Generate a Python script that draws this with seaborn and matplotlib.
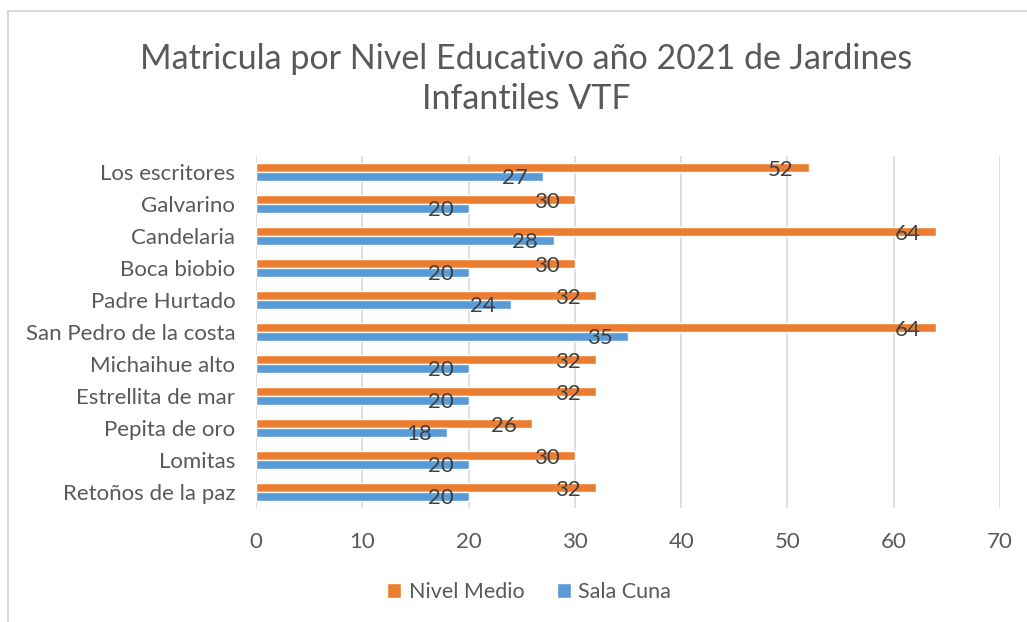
import matplotlib
matplotlib.use("Agg")
import matplotlib.pyplot as plt
import seaborn as sns
import pandas as pd
from matplotlib.lines import Line2D

categories = ["Los escritores", "Galvarino", "Candelaria", "Boca biobio", "Padre Hurtado",
              "San Pedro de la costa", "Michaihue alto", "Estrellita de mar", "Pepita de oro",
              "Lomitas", "Retoños de la paz"]
nivel_medio = [52, 30, 64, 30, 32, 64, 32, 32, 26, 30, 32]
sala_cuna = [27, 20, 28, 20, 24, 35, 20, 20, 18, 20, 20]
series_names = ["Nivel Medio", "Sala Cuna"]
x_ticks = [0, 10, 20, 30, 40, 50, 60, 70]
title = "Matricula por Nivel Educativo año 2021 de Jardines\nInfantiles VTF"

df = pd.DataFrame({
    "Jardin": categories * 2,
    "Serie": [series_names[0]] * len(categories) + [series_names[1]] * len(categories),
    "Valor": nivel_medio + sala_cuna,
})

sns.set_theme(style="white")
plt.rcParams["font.family"] = ["Lato", "DejaVu Sans"]

fig = plt.figure(figsize=(10.27, 6.22), dpi=100)
ax = fig.add_axes([256 / 1027, 1 - 508 / 622, (1000 - 256) / 1027, (508 - 156) / 622])

palette = {"Nivel Medio": "#ED7D31", "Sala Cuna": "#5B9BD5"}
sns.barplot(data=df, y="Jardin", x="Valor", hue="Serie", hue_order=series_names,
            order=categories, palette=palette, orient="h", width=0.54, gap=0,
            saturation=1, ax=ax, legend=True)

ax.set_xlim(0, 70)
ax.set_xticks(x_ticks)
ax.grid(axis="x", color="#D9D9D9", linewidth=1.2)
ax.set_axisbelow(True)
for s in ax.spines.values():
    s.set_visible(False)
ax.set_xlabel("")
ax.set_ylabel("")
ax.tick_params(axis="x", length=0, pad=17, labelsize=16, labelcolor="#595959")
ax.tick_params(axis="y", length=0, pad=15, labelsize=16, labelcolor="#595959")

for cont in ax.containers:
    for patch in cont:
        w = patch.get_width()
        yc = patch.get_y() + patch.get_height() / 2
        ax.annotate(f"{w:.0f}", (w, yc), xytext=(-11, -1.5), textcoords="offset points",
                    ha="right", va="center", fontsize=16, color="#404040")

handles, labels = ax.get_legend_handles_labels()
ax.legend_.remove()
fig.legend(handles, labels, loc="center", bbox_to_anchor=(529 / 1027, 1 - 592 / 622),
           ncol=2, frameon=False, fontsize=15.5, handlelength=0.65, handleheight=0.65,
           handletextpad=0.35, columnspacing=1.5, labelcolor="#595959")

fig.text(526 / 1027, 1 - 79 / 622, title, ha="center", va="center", fontsize=24.5,
         color="#595959", linespacing=1.3)

fig.add_artist(Line2D([8 / 1027, 8 / 1027], [0, 1 - 11 / 622], transform=fig.transFigure,
                      color="#D9D9D9", linewidth=1.5))
fig.add_artist(Line2D([8 / 1027, 1], [1 - 11 / 622, 1 - 11 / 622], transform=fig.transFigure,
                      color="#D9D9D9", linewidth=1.5))

fig.savefig("out.png", dpi=100)
